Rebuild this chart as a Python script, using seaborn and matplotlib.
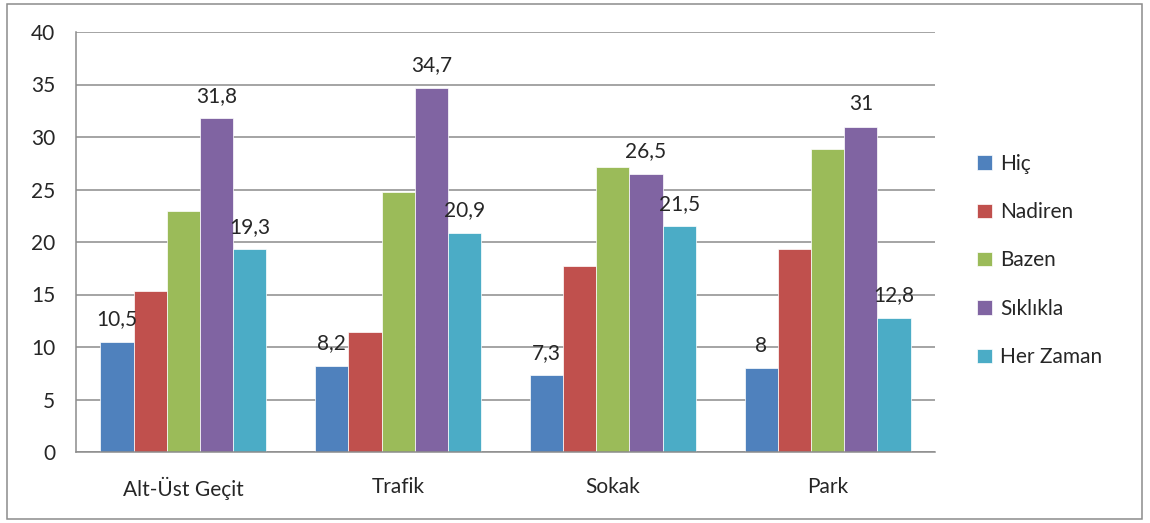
import pandas as pd
import seaborn as sns
import matplotlib.pyplot as plt
from matplotlib.patches import Rectangle
from matplotlib.ticker import FixedLocator

# Data
categories = ["Alt-Üst Geçit", "Trafik", "Sokak", "Park"]
series = ["Hiç", "Nadiren", "Bazen", "Sıklıkla", "Her Zaman"]
hic = [10.5, 8.2, 7.3, 8]
nadiren = [15.3, 11.4, 17.7, 19.3]
bazen = [23.0, 24.8, 27.1, 28.9]
siklikla = [31.8, 34.7, 26.5, 31]
her_zaman = [19.3, 20.9, 21.5, 12.8]
labelled = ["Hiç", "Sıklıkla", "Her Zaman"]

colors = ["#4F81BD", "#C0504D", "#9BBB59", "#8064A2", "#4BACC6"]

values = [hic, nadiren, bazen, siklikla, her_zaman]
df = pd.DataFrame(
    [(c, s, v) for s, vals in zip(series, values) for c, v in zip(categories, vals)],
    columns=["kategori", "seri", "deger"],
)

sns.set_style("white")
plt.rcParams["font.family"] = ["Lato", "DejaVu Sans"]

fig = plt.figure(figsize=(11.5, 5.23), dpi=100)
ax = fig.add_axes([76 / 1150, 71 / 523, 859 / 1150, 420 / 523])

sns.barplot(data=df, x="kategori", y="deger", hue="seri", order=categories,
            hue_order=series, palette=colors, width=0.772, saturation=1,
            edgecolor="white", linewidth=0.5, ax=ax)
ax.legend_.remove()

ax.set_xlim(-0.5, 3.5)
ax.set_ylim(0, 40)
ax.set_yticks(range(0, 41, 5))
ax.set_xlabel("")
ax.set_ylabel("")
ax.grid(axis="y", color="#8c8c8c", linewidth=1.1)
ax.set_axisbelow(True)
for side in ["top", "right"]:
    ax.spines[side].set_visible(False)
for side in ["left", "bottom"]:
    ax.spines[side].set_color("#8c8c8c")
    ax.spines[side].set_linewidth(1.1)

ax.tick_params(axis="y", length=7, color="#8c8c8c", width=1.1, labelsize=15, pad=8)
ax.tick_params(axis="x", which="major", length=0, labelsize=15, pad=18)
ax.xaxis.set_minor_locator(FixedLocator([-0.5, 0.5, 1.5, 2.5, 3.5]))
ax.tick_params(axis="x", which="minor", length=7, color="#8c8c8c", width=1.1)

# value labels for selected series
for name, cont in zip(series, ax.containers):
    if name in labelled:
        ax.bar_label(cont, labels=[f"{v:g}".replace(".", ",") for v in cont.datavalues],
                     padding=9, fontsize=15)

handles, labels = ax.get_legend_handles_labels()
fig.legend(handles, labels, loc="center left", bbox_to_anchor=(977 / 1150, 0.502),
           frameon=False, fontsize=15, handlelength=0.7, handleheight=0.7,
           handletextpad=0.4, labelspacing=1.36, borderpad=0, borderaxespad=0)

fig.patches.append(Rectangle((7 / 1150, 4 / 523), 1135 / 1150, 515 / 523,
                             transform=fig.transFigure, fill=False,
                             edgecolor="#8c8c8c", linewidth=1.1))

fig.savefig("out.png", dpi=100)
